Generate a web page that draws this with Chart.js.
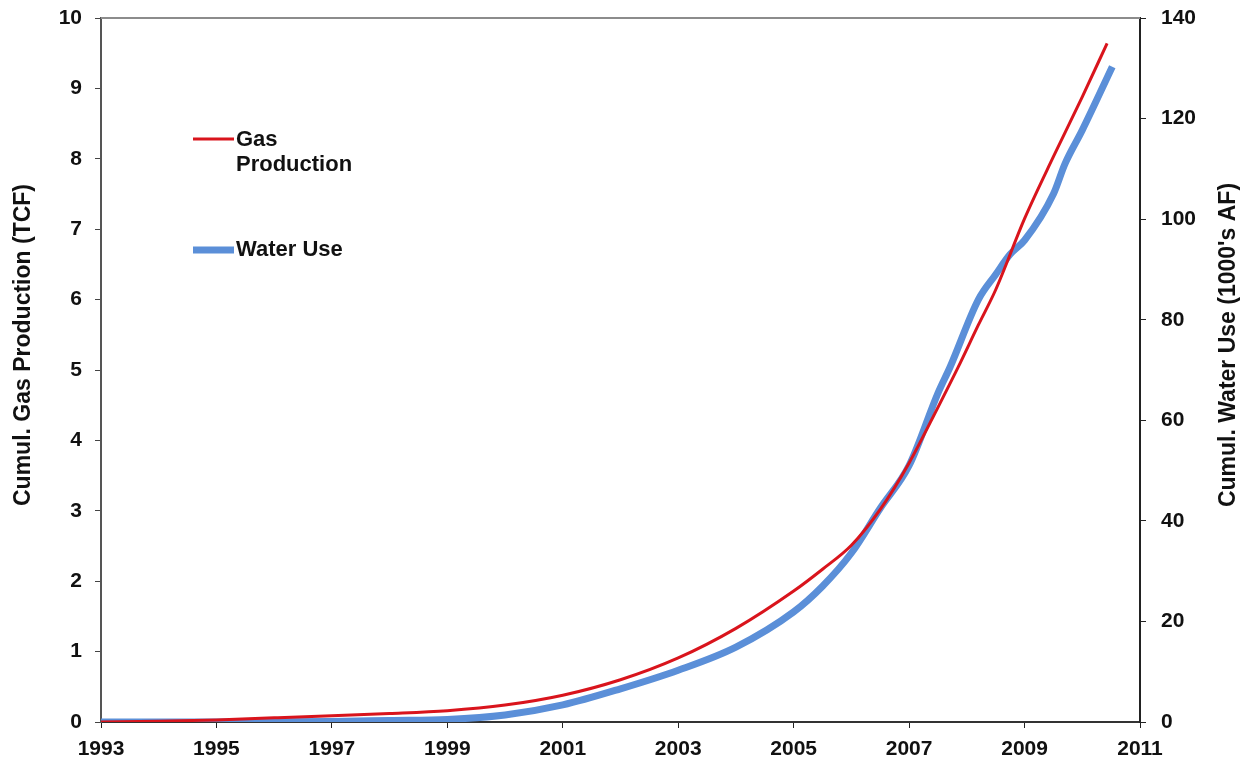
<!DOCTYPE html>
<html>
<head>
<meta charset="utf-8">
<script src="https://cdn.jsdelivr.net/npm/chart.js@4.4.1/dist/chart.umd.min.js"></script>
<style>
  html, body { margin: 0; padding: 0; background: #fff; }
  #wrap { width: 1251px; height: 767px; position: relative; }
</style>
</head>
<body>
<div id="wrap"><canvas id="grafico" width="1251" height="767"></canvas></div>
<script>
// cumulative gas production (TCF), left axis
const anosGas = [1993, 1994, 1995, 1996, 1997, 1998, 1999, 2000, 2001, 2002, 2003, 2004, 2005, 2005.5, 2006, 2006.5, 2007, 2007.5, 2007.85, 2008.2, 2008.5, 2009, 2009.5, 2010, 2010.43];
const valoresGas = [0, 0.01, 0.03, 0.06, 0.09, 0.12, 0.16, 0.24, 0.38, 0.6, 0.91, 1.33, 1.86, 2.17, 2.51, 3.02, 3.68, 4.47, 5.04, 5.64, 6.14, 7.15, 8.03, 8.88, 9.64];

// cumulative water use (1000's AF), right axis
const anosAgua = [1993, 1995, 1997, 1998, 1999, 2000, 2001, 2002, 2003, 2004, 2005, 2005.5, 2006, 2006.5, 2007, 2007.5, 2007.71, 2008.2, 2008.5, 2008.75, 2009, 2009.5, 2009.7, 2010, 2010.52];
const valoresAgua = [0, 0, 0.1, 0.3, 0.5, 1.4, 3.4, 6.6, 10.3, 14.9, 21.9, 27, 33.6, 42.5, 51, 65.4, 70.6, 84, 89, 93, 95.8, 105, 111, 117.7, 130.3];

const ticksAnos = [1993, 1995, 1997, 1999, 2001, 2003, 2005, 2007, 2009, 2011];

const tituloGas = 'Cumul. Gas Production (TCF)';
const tituloAgua = "Cumul. Water Use (1000's AF)";

const pontosGas = anosGas.map(function (a, i) { return { x: a, y: valoresGas[i] }; });
const pontosAgua = anosAgua.map(function (a, i) { return { x: a, y: valoresAgua[i] }; });

const familia = 'Liberation Sans, Arial, sans-serif';
const fonteTick = { family: familia, size: 21, weight: 'bold' };

function semPadding(axis) {
    axis.paddingTop = 0;
    axis.paddingBottom = 0;
}

// legend, top border and both axis titles (both read bottom-to-top)
const legendaInterna = {
    id: 'legendaInterna',
    afterDraw(chart) {
        const ctx = chart.ctx;
        const area = chart.chartArea;
        ctx.save();
        ctx.strokeStyle = '#8c8c8c';
        ctx.lineWidth = 2;
        ctx.beginPath();
        ctx.moveTo(area.left, area.top);
        ctx.lineTo(area.right, area.top);
        ctx.stroke();

        ctx.font = 'bold 22px ' + familia;
        ctx.fillStyle = '#111';
        ctx.textBaseline = 'middle';

        ctx.strokeStyle = '#d9141c';
        ctx.lineWidth = 3;
        ctx.beginPath();
        ctx.moveTo(193, 139);
        ctx.lineTo(234, 139);
        ctx.stroke();
        ctx.fillText('Gas', 236, 140);
        ctx.fillText('Production', 236, 165);

        ctx.strokeStyle = '#5b8fd8';
        ctx.lineWidth = 7;
        ctx.beginPath();
        ctx.moveTo(193, 250);
        ctx.lineTo(234, 250);
        ctx.stroke();
        ctx.fillText('Water Use', 236, 250);

        ctx.font = 'bold 23px ' + familia;
        ctx.textAlign = 'center';
        ctx.save();
        ctx.translate(24, 345);
        ctx.rotate(-Math.PI / 2);
        ctx.fillText(tituloGas, 0, 0);
        ctx.restore();
        ctx.save();
        ctx.translate(1229, 345);
        ctx.rotate(-Math.PI / 2);
        ctx.fillText(tituloAgua, 0, 0);
        ctx.restore();
        ctx.restore();
    }
};

new Chart(document.getElementById('grafico'), {
    type: 'line',
    data: {
        datasets: [{
            label: 'Water Use',
            data: pontosAgua,
            yAxisID: 'yAgua',
            borderColor: '#5b8fd8',
            borderWidth: 7,
            pointRadius: 0,
            cubicInterpolationMode: 'monotone',
            order: 2
        },
        {
            label: 'Gas Production',
            data: pontosGas,
            yAxisID: 'yGas',
            borderColor: '#d9141c',
            borderWidth: 3,
            pointRadius: 0,
            cubicInterpolationMode: 'monotone',
            order: 1
        }]
    },
    options: {
        responsive: false,
        animation: false,
        layout: { padding: { top: 18, bottom: 0, left: 0, right: 0 } },
        plugins: {
            legend: { display: false },
            tooltip: { enabled: false }
        },
        scales: {
            x: {
                type: 'linear',
                min: 1993,
                max: 2011,
                afterBuildTicks: function (axis) {
                    axis.ticks = ticksAnos.map(function (v) { return { value: v }; });
                },
                afterFit: function (axis) { axis.height = 45; },
                grid: { drawOnChartArea: false, drawTicks: true, tickLength: 6, color: '#222' },
                border: { color: '#333', width: 2 },
                ticks: {
                    color: '#111',
                    font: fonteTick,
                    padding: 9,
                    maxRotation: 0,
                    autoSkip: false,
                    callback: function (v) { return String(v); }
                }
            },
            yGas: {
                position: 'left',
                min: 0,
                max: 10,
                afterFit: function (axis) { axis.width = 101; semPadding(axis); },
                grid: { drawOnChartArea: false, drawTicks: true, tickLength: 6, color: '#444' },
                border: { color: '#555', width: 2 },
                ticks: { stepSize: 1, autoSkip: false, color: '#111', font: fonteTick, padding: 13 }
            },
            yAgua: {
                position: 'right',
                min: 0,
                max: 140,
                afterFit: function (axis) { axis.width = 111; semPadding(axis); },
                grid: { drawOnChartArea: false, drawTicks: true, tickLength: 6, color: '#222' },
                border: { color: '#222', width: 2 },
                ticks: { stepSize: 20, autoSkip: false, color: '#111', font: fonteTick, padding: 15 }
            }
        }
    },
    plugins: [legendaInterna]
});
</script>
</body>
</html>
